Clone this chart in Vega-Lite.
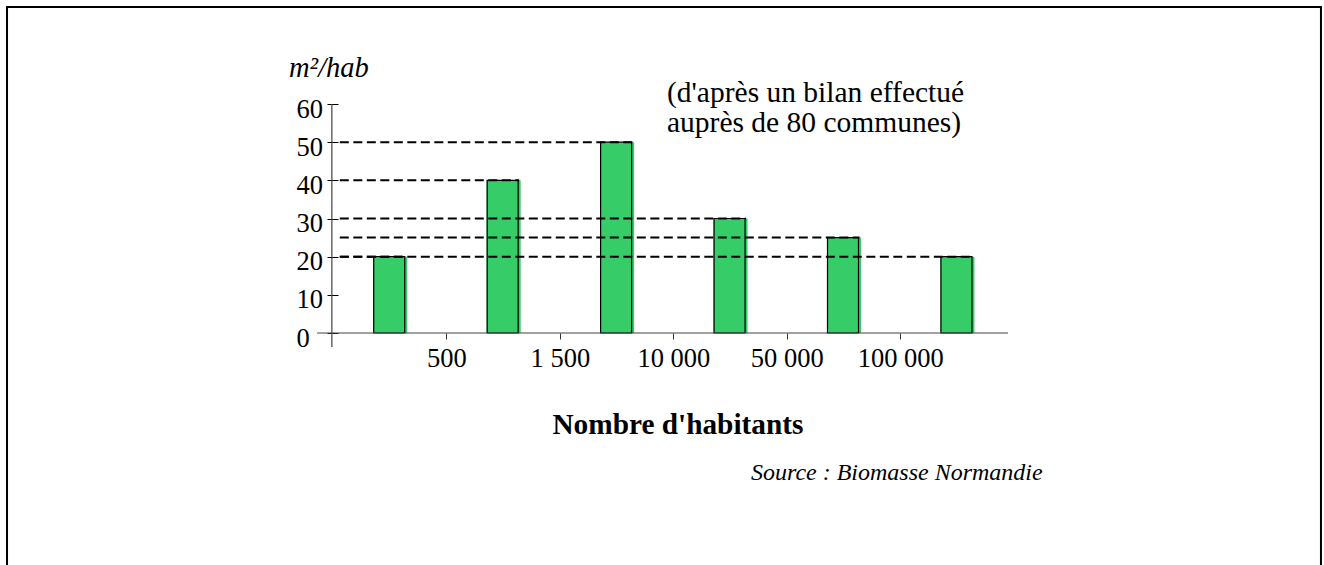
{
  "$schema": "https://vega.github.io/schema/vega-lite/v6.json",
  "width": 675,
  "height": 229,
  "autosize": {"type": "none"},
  "padding": {"left": 333, "top": 104, "right": 316, "bottom": 232},
  "background": "white",
  "config": {"view": {"stroke": null}, "font": "Liberation Serif"},
  "data": {
    "values": [
      {"classe": "moins de 500", "rang": 1, "m2": 20},
      {"classe": "500 à 1 500", "rang": 2, "m2": 40},
      {"classe": "1 500 à 10 000", "rang": 3, "m2": 50},
      {"classe": "10 000 à 50 000", "rang": 4, "m2": 30},
      {"classe": "50 000 à 100 000", "rang": 5, "m2": 25},
      {"classe": "plus de 100 000", "rang": 6, "m2": 20}
    ]
  },
  "layer": [
    {
      "data": {"values": [{}]},
      "mark": {"type": "rect", "fillOpacity": 0, "stroke": "black", "strokeWidth": 2},
      "encoding": {
        "x": {"datum": -2.3735, "type": "quantitative"},
        "x2": {"datum": 9.2087, "type": "quantitative"},
        "y": {"datum": 85.41, "type": "quantitative"},
        "y2": {"datum": -65, "type": "quantitative"}
      }
    },
    {
      "mark": {"type": "bar", "color": "#36CC68", "width": 34, "xOffset": 0.5, "y2Offset": 1},
      "encoding": {
        "x": {
          "field": "rang", "type": "quantitative",
          "scale": {"domain": [0.5, 6.45], "nice": false, "zero": false, "padding": 0},
          "axis": {
            "values": [1.5, 2.5, 3.5, 4.5, 5.5],
            "labelExpr": "datum.value == 1.5 ? '500' : datum.value == 2.5 ? '1 500' : datum.value == 3.5 ? '10 000' : datum.value == 4.5 ? '50 000' : '100 000'",
            "domain": false, "grid": false,
            "tickSize": 6, "tickColor": "#333",
            "labelFont": "Liberation Serif", "labelFontSize": 26.5, "labelColor": "black", "labelBaseline": "alphabetic", "labelPadding": 27.5,
            "labelFlush": false, "labelOverlap": false,
            "title": "Nombre d'habitants", "titleFont": "Liberation Serif", "titleFontSize": 29.3, "titleFontWeight": "bold", "titleColor": "black",
            "titleX": 344.4, "titleY": 100, "titleBaseline": "alphabetic", "titleAlign": "center"
          }
        },
        "y": {
          "field": "m2", "type": "quantitative",
          "scale": {"domain": [0, 60], "nice": false, "zero": true},
          "axis": {
            "values": [0, 10, 20, 30, 40, 50, 60],
            "tickCount": 7,
            "domain": false, "grid": false, "offset": -5,
            "tickSize": 11, "tickColor": "black",
            "labelAlign": "left", "labelPadding": 31, "labelBaseline": "alphabetic", "labelOffset": 13,
            "labelFont": "Liberation Serif", "labelFontSize": 26.5, "labelColor": "black", "labelFlush": false, "labelOverlap": false,
            "title": null
          }
        }
      }
    },
    {
      "mark": {"type": "bar", "fillOpacity": 0, "stroke": "black", "strokeWidth": 1.2, "width": 31, "xOffset": -0.5, "y2Offset": -1},
      "encoding": {
        "x": {"field": "rang", "type": "quantitative"},
        "y": {"field": "m2", "type": "quantitative"}
      }
    },
    {
      "mark": {"type": "rule", "color": "black", "strokeWidth": 2, "strokeDash": [9, 4.5], "x2Offset": 16},
      "encoding": {
        "x": {"datum": 0.56, "type": "quantitative"},
        "x2": {"field": "rang", "type": "quantitative"},
        "y": {"field": "m2", "type": "quantitative"}
      }
    },
    {
      "data": {"values": [{}]},
      "mark": {"type": "rule", "color": "#444", "strokeWidth": 1.2},
      "encoding": {
        "x": {"datum": 0.36, "type": "quantitative"},
        "x2": {"datum": 6.45, "type": "quantitative"},
        "y": {"datum": 0, "type": "quantitative"}
      }
    },
    {
      "data": {"values": [{}]},
      "mark": {"type": "rule", "color": "#444", "strokeWidth": 1.2},
      "encoding": {
        "x": {"datum": 0.49, "type": "quantitative"},
        "y": {"datum": 60, "type": "quantitative"},
        "y2": {"datum": -3.7, "type": "quantitative"}
      }
    },
    {
      "data": {"values": [{"t": "m²/hab"}]},
      "mark": {"type": "text", "font": "Liberation Serif", "fontSize": 28.5, "fontStyle": "italic", "align": "left", "baseline": "alphabetic", "color": "black"},
      "encoding": {
        "x": {"datum": 0.1122, "type": "quantitative"},
        "y": {"datum": 67.07, "type": "quantitative"},
        "text": {"field": "t", "type": "nominal"}
      }
    },
    {
      "data": {"values": [{"t": "(d'après un bilan effectué\nauprès de 80 communes)"}]},
      "mark": {"type": "text", "font": "Liberation Serif", "fontSize": 29.5, "align": "left", "baseline": "alphabetic", "lineBreak": "\n", "lineHeight": 30, "color": "black"},
      "encoding": {
        "x": {"datum": 3.444, "type": "quantitative"},
        "y": {"datum": 60.6, "type": "quantitative"},
        "text": {"field": "t", "type": "nominal"}
      }
    },
    {
      "data": {"values": [{"t": "Source : Biomasse Normandie"}]},
      "mark": {"type": "text", "font": "Liberation Serif", "fontSize": 24, "fontStyle": "italic", "align": "left", "baseline": "alphabetic", "color": "black"},
      "encoding": {
        "x": {"datum": 4.184, "type": "quantitative"},
        "y": {"datum": -38.5, "type": "quantitative"},
        "text": {"field": "t", "type": "nominal"}
      }
    }
  ]
}
